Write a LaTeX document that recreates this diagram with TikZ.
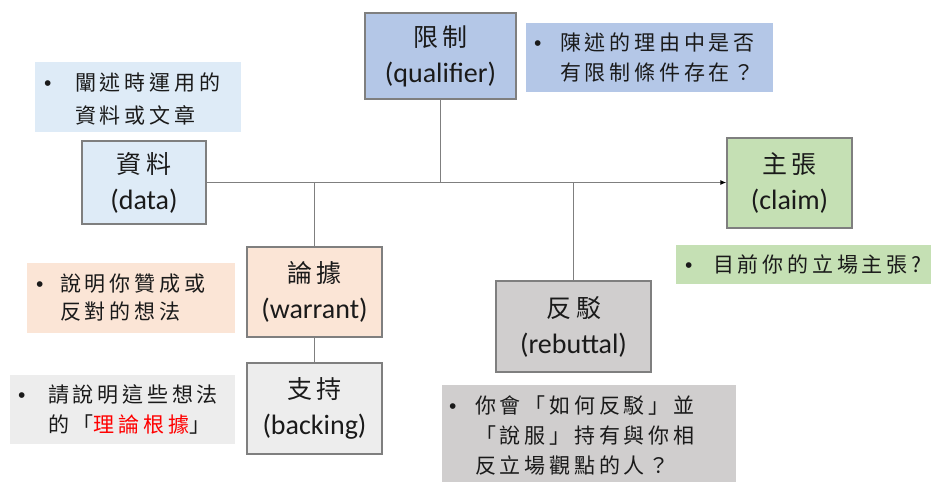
\documentclass[tikz,border=0pt]{standalone}
\usepackage{fontspec}
\setmainfont{Carlito}
\newfontfamily\cjkbox{Noto Sans CJK TC}[LetterSpace=20]
\newfontfamily\cjkann{Noto Sans CJK TC}[LetterSpace=18]
\newfontfamily\bulfont{Liberation Sans}
\usetikzlibrary{arrows.meta}
\definecolor{cData}{HTML}{DEEBF7}
\definecolor{cQual}{HTML}{B4C7E7}
\definecolor{cWarr}{HTML}{FBE5D6}
\definecolor{cBack}{HTML}{EDEDED}
\definecolor{cRebu}{HTML}{D0CECE}
\definecolor{cClaim}{HTML}{C5E0B4}
\definecolor{edgec}{HTML}{7F7F7F}
\definecolor{txt}{HTML}{1A1A1A}
\newcommand\bitem[3]{{\fontsize{21}{#2}\selectfont\cjkann\begin{tabular}{@{}p{#1}@{}l@{}}{\bulfont\fontsize{21}{21}\selectfont •}&#3\end{tabular}}}
\newcommand\boxtxt[2]{{\cjkbox\fontsize{25}{36}\selectfont #1}\\#2}
\begin{document}
\begin{tikzpicture}[x=1pt,y=-1pt,
  boxn/.style={draw=edgec,line width=1.3pt,inner sep=0pt,align=center,text=txt,font=\fontsize{28}{36}\selectfont},
  conn/.style={draw=edgec,line width=1.3pt},
  annt/.style={anchor=west,inner sep=0pt,text=txt}]
\useasboundingbox (0,0) rectangle (931,482);
% annotation backgrounds
\fill[cData] (35,62) rectangle (241,132);
\fill[cQual] (526,23) rectangle (773,92);
\fill[cWarr] (27,263) rectangle (235,333);
\fill[cBack] (10,375) rectangle (235,444);
\fill[cRebu] (442,385) rectangle (736,482);
\fill[cClaim] (676,245) rectangle (931,284);
% annotation texts
\node[annt] (tData) at (44,100) {\bitem{31pt}{33pt}{闡述時運用的\\&資料或文章}};
\node[annt] (tQual) at (534,59) {\bitem{26pt}{30pt}{陳述的理由中是否\\&有限制條件存在？}};
\node[annt] (tWarr) at (36,300) {\bitem{24pt}{28pt}{說明你贊成或\\&反對的想法}};
\node[annt] (tBack) at (18,411) {\bitem{30pt}{30pt}{請說明這些想法\\&的「\textcolor{red}{理論根據}」}};
\node[annt] (tRebu) at (449,437) {\bitem{26pt}{30pt}{你會「如何反駁」並\\&「說服」持有與你相\\&反立場觀點的人？}};
\node[annt] (tClaim) at (685,266) {\bitem{28pt}{30pt}{目前你的立場主張?}};
% boxes
\node[boxn,fill=cData,minimum width=124pt,minimum height=83pt] (data) at (144,182.5) {\boxtxt{資料}{(data)}};
\node[boxn,fill=cQual,minimum width=151pt,minimum height=86pt] (qual) at (440.5,56) {\boxtxt{限制}{(qualifier)}};
\node[boxn,fill=cWarr,minimum width=135pt,minimum height=90pt] (warrant) at (314.5,292) {\boxtxt{論據}{(warrant)}};
\node[boxn,fill=cBack,minimum width=135pt,minimum height=91pt] (backing) at (314.5,408.5) {\boxtxt{支持}{(backing)}};
\node[boxn,fill=cRebu,minimum width=155pt,minimum height=91pt] (rebut) at (573.5,326.5) {\boxtxt{反駁}{(rebuttal)}};
\node[boxn,fill=cClaim,minimum width=125pt,minimum height=90pt] (claim) at (789.5,183) {\boxtxt{主張}{(claim)}};
% connectors
\coordinate (jq) at (qual.south |- data.east);
\coordinate (jw) at (warrant.north |- data.east);
\coordinate (jr) at (rebut.north |- data.east);
\draw[conn] (qual.south) -- (jq);
\draw[conn] (jw) -- (warrant.north);
\draw[conn] (warrant.south) -- (backing.north);
\draw[conn] (jr) -- (rebut.north);
\draw[conn,-{Latex[length=6pt,width=5pt,color=black]}] (data.east) -- (data.east -| claim.west);
\end{tikzpicture}
\end{document}
